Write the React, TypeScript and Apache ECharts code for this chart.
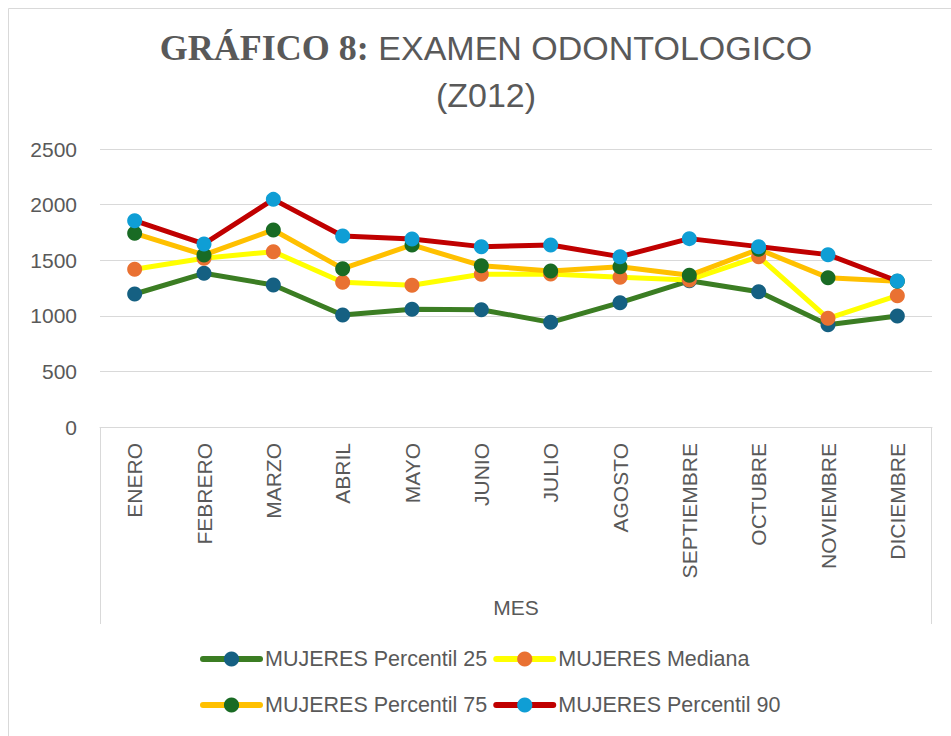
import React, { useEffect, useRef } from "react";
import * as echarts from "echarts";

const categories = [
  "ENERO", "FEBRERO", "MARZO", "ABRIL", "MAYO", "JUNIO",
  "JULIO", "AGOSTO", "SEPTIEMBRE", "OCTUBRE", "NOVIEMBRE", "DICIEMBRE",
];
const p25 = [1196, 1382, 1277, 1007, 1058, 1055, 941, 1118, 1315, 1217, 920, 998];
const mediana = [1418, 1517, 1577, 1301, 1274, 1373, 1376, 1346, 1322, 1532, 977, 1181];
const p75 = [1742, 1547, 1772, 1424, 1637, 1451, 1403, 1442, 1364, 1598, 1343, 1310];
const p90 = [1855, 1646, 2047, 1718, 1691, 1622, 1637, 1532, 1694, 1622, 1550, 1313];

const seriesNames = [
  "MUJERES Percentil 25",
  "MUJERES Mediana",
  "MUJERES Percentil 75",
  "MUJERES Percentil 90",
];
const lineColors = ["#3B7D23", "#FFFF00", "#FFC000", "#C00000"];
const markerColors = ["#156082", "#E97132", "#196B24", "#0F9ED5"];
const seriesData = [p25, mediana, p75, p90];

const TXT = "#595959";
const GRID = "#D9D9D9";
const SANS = "'Liberation Sans', Arial, sans-serif";

export default function App() {
  const ref = useRef<HTMLDivElement>(null);
  useEffect(() => {
    document.body.style.margin = "0";
    document.body.style.overflow = "hidden";
    if (!ref.current) return;
    const chart = echarts.init(ref.current, undefined, { renderer: "svg" });
    const legendCommon = {
      orient: "horizontal",
      left: 200,
      padding: 0,
      itemWidth: 57,
      itemHeight: 19,
      itemGap: 6,
      lineStyle: { width: 6, cap: "round" },
      textStyle: { color: TXT, fontSize: 21.5, fontFamily: SANS },
    };
    chart.setOption({
      animation: false,
      backgroundColor: "#ffffff",
      grid: { left: 100, top: 149, width: 832, height: 278, containLabel: false },
      graphic: [
        {
          type: "rect",
          shape: { x: 8.5, y: 8.5, width: 1200, height: 1200 },
          style: { fill: "none", stroke: GRID, lineWidth: 1 },
          silent: true,
        },
        {
          type: "text",
          x: 486,
          y: 48,
          style: {
            text: "{b|GRÁFICO 8:} {n|EXAMEN ODONTOLOGICO}",
            align: "center",
            verticalAlign: "middle",
            rich: {
              b: {
                fontFamily: "'Liberation Serif', 'Times New Roman', serif",
                fontWeight: "bold",
                fontSize: 36,
                fill: TXT,
                color: TXT,
              },
              n: { fontFamily: SANS, fontSize: 34, fill: TXT, color: TXT },
            },
            fontFamily: SANS,
            fontSize: 34,
            fill: TXT,
          },
        },
        {
          type: "text",
          x: 486,
          y: 95,
          style: {
            text: "(Z012)",
            align: "center",
            verticalAlign: "middle",
            fontFamily: SANS,
            fontSize: 34,
            fill: TXT,
          },
        },
        {
          type: "line",
          shape: { x1: 100.5, y1: 427, x2: 100.5, y2: 624 },
          style: { stroke: GRID, lineWidth: 1 },
          silent: true,
        },
        {
          type: "line",
          shape: { x1: 931.5, y1: 427, x2: 931.5, y2: 624 },
          style: { stroke: GRID, lineWidth: 1 },
          silent: true,
        },
      ],
      legend: [
        { ...legendCommon, top: 648, data: [seriesNames[0], seriesNames[1]] },
        { ...legendCommon, top: 694, data: [seriesNames[2], seriesNames[3]] },
      ],
      xAxis: {
        type: "category",
        data: categories,
        boundaryGap: true,
        name: "MES",
        nameLocation: "middle",
        nameGap: 170,
        nameTextStyle: { color: TXT, fontSize: 21, fontFamily: SANS },
        axisLine: { show: true, lineStyle: { color: GRID, width: 1 } },
        axisTick: { show: false },
        axisLabel: {
          rotate: 90,
          margin: 16,
          color: TXT,
          fontSize: 21,
          fontFamily: SANS,
          interval: 0,
        },
      },
      yAxis: {
        type: "value",
        min: 0,
        max: 2500,
        interval: 500,
        axisLine: { show: false },
        axisTick: { show: false },
        axisLabel: {
          color: TXT,
          fontSize: 21,
          fontFamily: SANS,
          margin: 23,
          formatter: (v: number) => String(v),
        },
        splitLine: { show: true, lineStyle: { color: GRID, width: 1 } },
      },
      series: seriesData.map((d, i) => ({
        name: seriesNames[i],
        type: "line",
        data: d,
        symbol: "circle",
        symbolSize: 15,
        showAllSymbol: true,
        lineStyle: { color: lineColors[i], width: 5 },
        itemStyle: { color: markerColors[i], borderWidth: 0 },
        emphasis: { disabled: true },
      })),
    });
    return () => chart.dispose();
  }, []);
  return <div ref={ref} style={{ width: 951, height: 736 }} />;
}
